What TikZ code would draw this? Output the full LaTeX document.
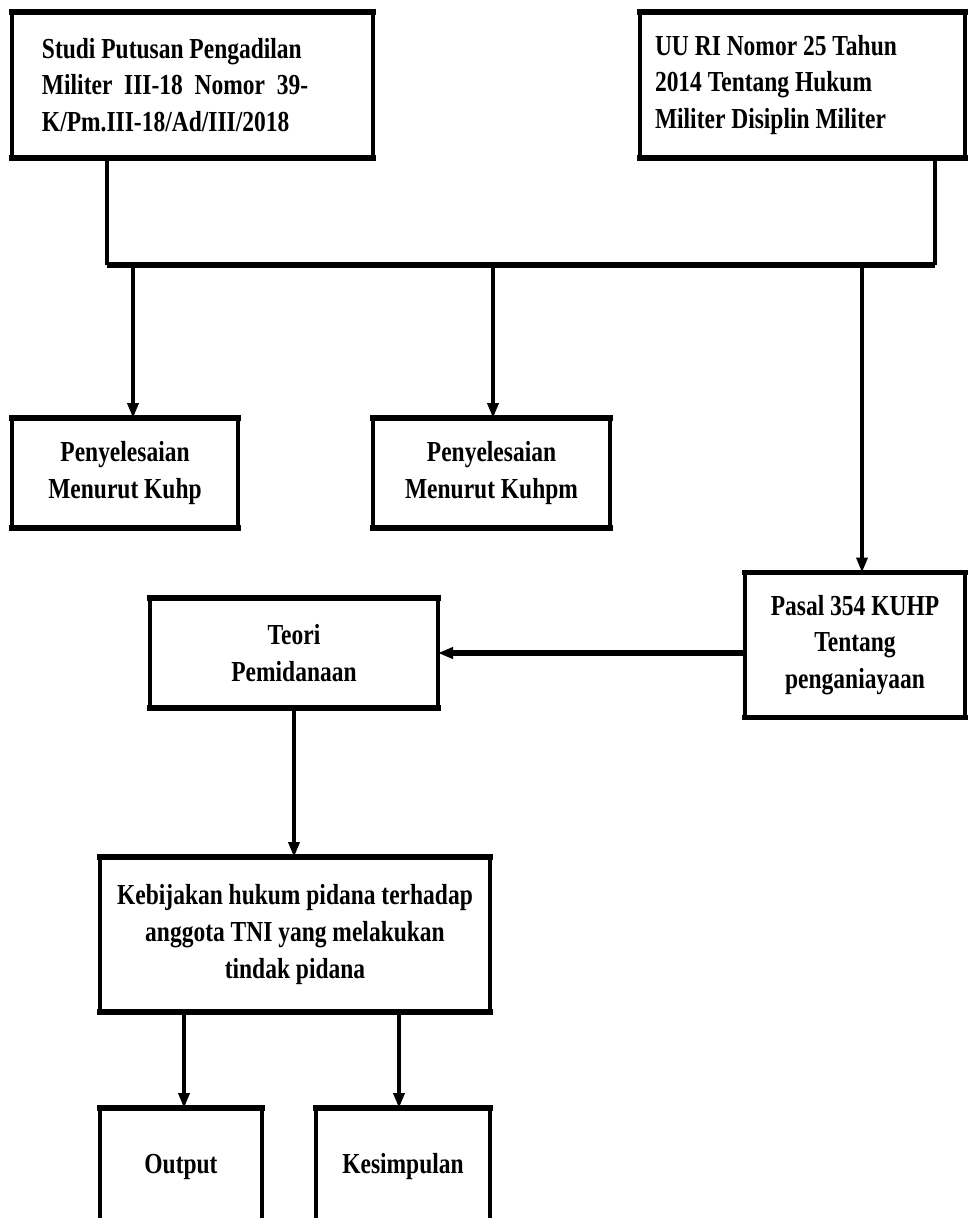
\documentclass[tikz,border=0pt]{standalone}
\usepackage{fontspec}
\setmainfont{Liberation Serif}[FakeStretch=0.81]
\usetikzlibrary{arrows.meta}

\tikzset{
  kotak/.style={draw, line width=1.8pt, outer sep=0pt, inner sep=0pt, align=center,
    font=\fontsize{16.5}{20.8}\selectfont\bfseries},
  garis/.style={line width=2pt},
  panah/.style={line width=2pt, -{Triangle[length=0.3cm,width=0.22cm]}},
}

\begin{document}
\begin{tikzpicture}
  \clip (0,0) rectangle (19.36,-24.36);
  \fill[white] (0,0) rectangle (19.36,-24.36);

  \node[kotak, align=flush left, text width=6.02cm, inner xsep=0.6cm, minimum height=2.92cm] (studi) at (3.85,-1.70)
    {Studi Putusan Pengadilan\\ Militer~ III-18~ Nomor~ 39-\\ K/Pm.III-18/Ad/III/2018};
  \node[kotak, align=flush left, text width=5.9cm, inner xsep=0.3cm, minimum height=2.92cm] (uu) at (16.05,-1.70)
    {UU RI Nomor 25 Tahun\\ 2014 Tentang Hukum\\ Militer Disiplin Militer};

  \node[kotak, minimum width=4.52cm, minimum height=2.2cm] (kuhp) at (2.50,-9.46) {Penyelesaian\\ Menurut Kuhp};
  \node[kotak, minimum width=4.74cm, minimum height=2.2cm] (kuhpm) at (9.83,-9.46) {Penyelesaian\\ Menurut Kuhpm};
  \node[kotak, minimum width=4.4cm, minimum height=2.9cm] (pasal) at (17.10,-12.90) {Pasal 354 KUHP\\ Tentang\\ penganiayaan};
  \node[kotak, minimum width=5.76cm, minimum height=2.2cm] (teori) at (5.88,-13.06) {Teori\\ Pemidanaan};
  \node[kotak, minimum width=7.8cm, minimum height=3.1cm] (kebijakan) at (5.90,-18.69)
    {Kebijakan hukum pidana terhadap\\ anggota TNI yang melakukan\\ tindak pidana};
  \node[kotak, minimum width=3.24cm, minimum height=2.36cm] (output) at (3.62,-23.34) {Output};
  \node[kotak, minimum width=3.48cm, minimum height=2.36cm] (simpulan) at (8.06,-23.34) {Kesimpulan};

  \foreach \n in {studi,uu,kuhp,kuhpm,pasal,teori,kebijakan,output,simpulan}
    \draw[line width=2.9pt, line cap=rect] (\n.north west) -- (\n.north east) (\n.south west) -- (\n.south east);

  \coordinate (bL) at (2.14,-5.30);
  \coordinate (bR) at (18.70,-5.30);
  \coordinate (b1) at (2.66,-5.30);
  \coordinate (b2) at (9.86,-5.30);
  \coordinate (b3) at (17.24,-5.30);

  \draw[garis] (studi.south -| bL) -- (bL);
  \draw[garis] (uu.south -| bR) -- (bR);
  \draw[line width=2.9pt] (bL) -- (bR);

  \draw[panah] (b1) -- (b1 |- kuhp.north);
  \draw[panah] (b2) -- (b2 |- kuhpm.north);
  \draw[panah] (b3) -- (b3 |- pasal.north);
  \draw[panah, line width=2.9pt] (teori.east -| pasal.west) -- (teori.east);
  \draw[panah] (teori.south) -- (teori.south |- kebijakan.north);
  \draw[panah] (kebijakan.south -| 3.68,0) -- (3.68,0 |- output.north);
  \draw[panah] (kebijakan.south -| 7.98,0) -- (7.98,0 |- simpulan.north);
\end{tikzpicture}
\end{document}
